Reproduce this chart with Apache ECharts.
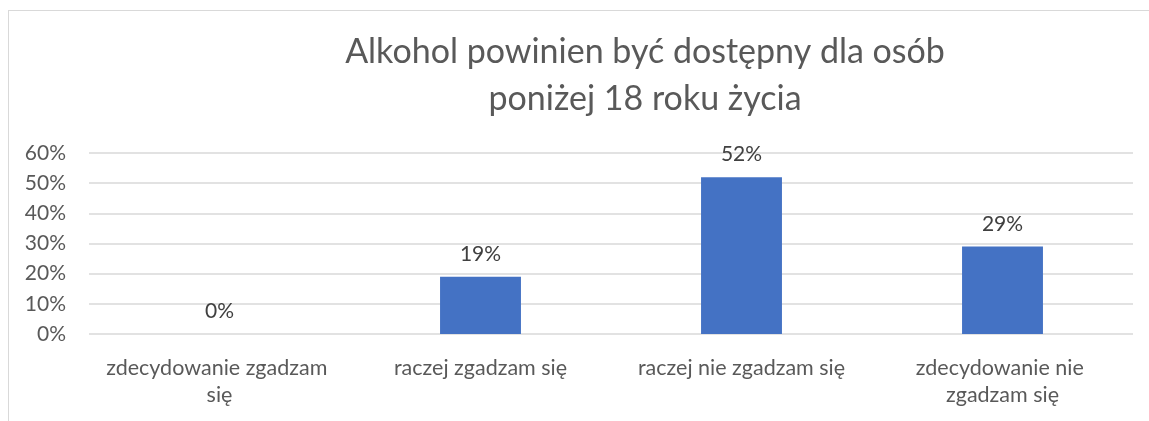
<!DOCTYPE html>
<html>
<head>
<meta charset="utf-8">
<script src="https://cdn.jsdelivr.net/npm/echarts@6/dist/echarts.min.js"></script>
<style>
  html, body { margin: 0; padding: 0; background: #fff; }
  #chart { width: 1149px; height: 421px; }
  .frame { position: absolute; left: 8px; top: 10px; width: 1160px; height: 430px; border: 1px solid #d9d9d9; box-sizing: border-box; pointer-events: none; }
</style>
</head>
<body>
<div id="chart"></div>
<div class="frame"></div>
<script>
const titleLines = ['Alkohol powinien być dostępny dla osób', 'poniżej 18 roku życia']
const categories = ['zdecydowanie zgadzam się', 'raczej zgadzam się', 'raczej nie zgadzam się', 'zdecydowanie nie zgadzam się']
const values = [0, 19, 52, 29]
const yTicks = [0, 10, 20, 30, 40, 50, 60]

const font = 'Lato, "Noto Sans", sans-serif'
const textColor = '#595959'

const chart = echarts.init(document.getElementById('chart'))
chart.setOption({
  animation: false,
  title: {
    text: titleLines.join('\n'),
    left: 640,
    textAlign: 'center',
    top: 24,
    textStyle: {
      fontFamily: font,
      fontSize: 34,
      fontWeight: 'normal',
      color: textColor,
      lineHeight: 47
    }
  },
  grid: { left: 89, right: 16, top: 153, bottom: 87 },
  xAxis: {
    type: 'category',
    data: categories,
    axisLine: { show: false },
    axisTick: { show: false },
    axisLabel: {
      interval: 0,
      margin: 21,
      fontFamily: font,
      fontSize: 21.5,
      color: textColor,
      lineHeight: 27,
      width: 250,
      overflow: 'break'
    }
  },
  yAxis: {
    type: 'value',
    min: yTicks[0],
    max: yTicks[yTicks.length - 1],
    interval: 10,
    axisLabel: {
      formatter: '{value}%',
      margin: 23,
      fontFamily: font,
      fontSize: 21,
      color: textColor
    },
    splitLine: { lineStyle: { color: '#d9d9d9', width: 1.5 } }
  },
  series: [{
    type: 'bar',
    data: values,
    barWidth: '31%',
    itemStyle: { color: '#4472c4' },
    label: {
      show: true,
      position: 'top',
      distance: 12,
      formatter: '{c}%',
      fontFamily: font,
      fontSize: 21,
      color: '#404040'
    }
  }]
})
</script>
</body>
</html>
